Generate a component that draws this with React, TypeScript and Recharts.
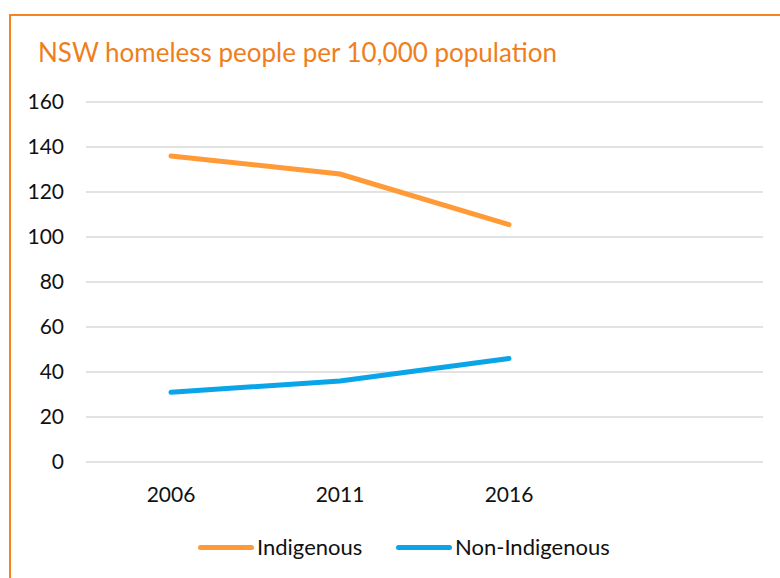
import React from 'react';
import { LineChart, Line, XAxis, YAxis, CartesianGrid, Legend } from 'recharts';

const years = ['2006', '2011', '2016', ''];
const indigenous: (number | null)[] = [136, 128, 105.5, null];
const nonIndigenous: (number | null)[] = [31, 36, 46, null];
const yTicks = [0, 20, 40, 60, 80, 100, 120, 140, 160];

const data = years.map((y, i) => ({ year: y, Indigenous: indigenous[i], NonIndigenous: nonIndigenous[i] }));

const ORANGE = '#FF9A36';
const BLUE = '#0AA5E8';
const FONT = 'Lato, "Open Sans", sans-serif';

const LegendContent = () => (
  <div style={{ position: 'relative', width: 780, height: 30, fontFamily: FONT, fontSize: 22, color: '#111' }}>
    <div style={{ position: 'absolute', left: 198, top: 13, width: 56, height: 5, borderRadius: 3, background: ORANGE }} />
    <div style={{ position: 'absolute', left: 257, top: 1, lineHeight: '28px' }}>Indigenous</div>
    <div style={{ position: 'absolute', left: 396, top: 13, width: 56, height: 5, borderRadius: 3, background: BLUE }} />
    <div style={{ position: 'absolute', left: 455, top: 1, lineHeight: '28px' }}>Non-Indigenous</div>
  </div>
);

export default function App() {
  return (
    <div style={{ position: 'absolute', left: 0, top: 0, width: 780, height: 578, overflow: 'hidden', background: '#fff' }}>
      <div style={{ position: 'absolute', left: 9, top: 14, width: 800, height: 600, border: '2px solid #F5841F', boxSizing: 'border-box' }} />
      <div style={{ position: 'absolute', left: 38, top: 35, fontFamily: FONT, fontSize: 26, color: '#EE7F1C', lineHeight: '34px', whiteSpace: 'nowrap' }}>
        NSW homeless people per 10,000 population
      </div>
      <div style={{ position: 'absolute', left: 0, top: 0 }}>
        <LineChart width={780} height={578} data={data} margin={{ top: 102, right: 17, bottom: 66, left: 0 }}>
          <CartesianGrid vertical={false} stroke="#D9D9D9" strokeWidth={1.5} />
          <XAxis
            dataKey="year"
            axisLine={false}
            tickLine={false}
            tickMargin={19}
            height={50}
            padding={{ left: 85, right: 85 }}
            tick={{ fill: '#111', fontSize: 21, fontFamily: FONT }}
          />
          <YAxis
            width={86}
            domain={[0, 160]}
            ticks={yTicks}
            axisLine={false}
            tickLine={false}
            tickMargin={16}
            tick={{ fill: '#111', fontSize: 21, fontFamily: FONT }}
          />
          <Legend verticalAlign="middle" align="center" wrapperStyle={{ top: 532, left: 0, width: 780 }} content={<LegendContent />} />
          <Line type="linear" dataKey="Indigenous" stroke={ORANGE} strokeWidth={5} strokeLinecap="round" dot={false} activeDot={false} isAnimationActive={false} />
          <Line type="linear" dataKey="NonIndigenous" name="Non-Indigenous" stroke={BLUE} strokeWidth={5} strokeLinecap="round" dot={false} activeDot={false} isAnimationActive={false} />
        </LineChart>
      </div>
    </div>
  );
}
